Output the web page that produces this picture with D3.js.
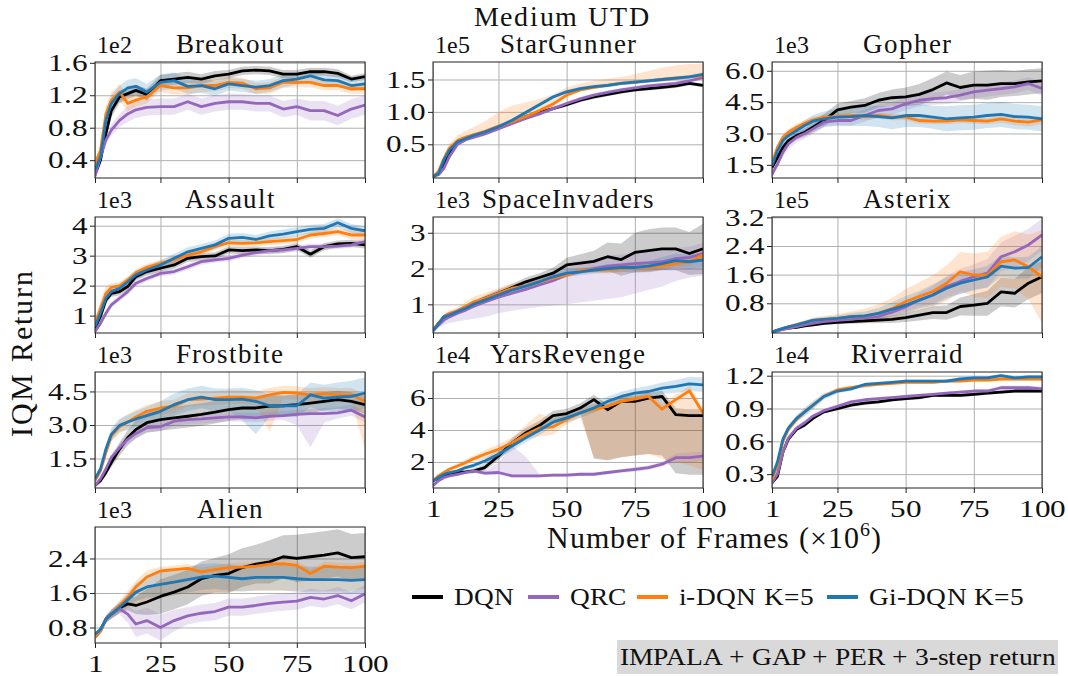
<!DOCTYPE html>
<html>
<head>
<meta charset="utf-8">
<script src="https://cdn.jsdelivr.net/npm/d3@7"></script>
<style>
  @font-face {
    font-family: "FigSerif";
    src: local("Liberation Serif"), local("LiberationSerif"), local("LiberationSerif-Regular"),
         local("Times New Roman"), local("DejaVu Serif"), local("DejaVuSerif");
  }
  body { margin: 0; background: #fff; }
  svg { display: block; }
  svg text { font-family: "FigSerif", "Liberation Serif", "Times New Roman", "DejaVu Serif", serif; }
</style>
</head>
<body>
<div id="chart"></div>
<script>
// frames (x 10^6) at which the curves are sampled
const frames = [1, 3, 5, 7, 10, 13, 16, 20, 25, 30, 35, 40, 45, 50, 55, 60, 65, 70, 75, 80, 85, 90, 95, 100];

const methods = ["DQN", "QRC", "i-DQN K=5", "Gi-DQN K=5"];
const colors = ["#000000", "#9467bd", "#ff7f0e", "#1f77b4"];

// ---- Breakout (x1e2)
const breakoutTicks = ["0.4", "0.8", "1.2", "1.6"];
const breakoutDQN = [0.22, 0.40, 0.73, 1.01, 1.18, 1.22, 1.26, 1.21, 1.38, 1.40, 1.42, 1.40, 1.44, 1.46, 1.50, 1.51, 1.50, 1.46, 1.46, 1.49, 1.49, 1.47, 1.40, 1.43];
const breakoutDQNBand = [0.03, 0.05, 0.08, 0.08, 0.08, 0.07, 0.07, 0.07, 0.07, 0.07, 0.07, 0.06, 0.06, 0.05, 0.05, 0.05, 0.05, 0.05, 0.05, 0.05, 0.05, 0.05, 0.04, 0.04];
const breakoutQRC = [0.20, 0.44, 0.65, 0.77, 0.89, 0.97, 1.02, 1.05, 1.06, 1.06, 1.12, 1.06, 1.10, 1.12, 1.12, 1.10, 1.10, 1.03, 1.06, 1.01, 1.01, 0.95, 1.03, 1.08];
const breakoutQRCBand = [0.03, 0.05, 0.06, 0.07, 0.08, 0.10, 0.10, 0.10, 0.10, 0.10, 0.10, 0.10, 0.10, 0.10, 0.10, 0.10, 0.10, 0.10, 0.10, 0.12, 0.12, 0.12, 0.12, 0.12];
const breakoutIDQN = [0.36, 0.52, 0.97, 1.14, 1.24, 1.10, 1.14, 1.18, 1.32, 1.29, 1.29, 1.32, 1.32, 1.36, 1.35, 1.28, 1.29, 1.36, 1.36, 1.36, 1.32, 1.32, 1.28, 1.28];
const breakoutIDQNBand = [0.04, 0.06, 0.10, 0.10, 0.10, 0.10, 0.08, 0.08, 0.08, 0.08, 0.08, 0.08, 0.07, 0.07, 0.07, 0.07, 0.07, 0.07, 0.06, 0.06, 0.06, 0.06, 0.06, 0.06];
const breakoutGiDQN = [0.28, 0.44, 0.89, 1.10, 1.22, 1.29, 1.31, 1.24, 1.36, 1.38, 1.31, 1.32, 1.28, 1.34, 1.32, 1.30, 1.32, 1.38, 1.40, 1.44, 1.39, 1.38, 1.32, 1.34];
const breakoutGiDQNBand = [0.04, 0.06, 0.10, 0.10, 0.10, 0.10, 0.10, 0.10, 0.10, 0.10, 0.09, 0.09, 0.09, 0.08, 0.08, 0.08, 0.08, 0.08, 0.07, 0.07, 0.07, 0.07, 0.07, 0.07];

// ---- StarGunner (x1e5)
const starTicks = ["0.5", "1.0", "1.5"];
const starDQN = [0.00, 0.06, 0.18, 0.36, 0.53, 0.58, 0.62, 0.67, 0.75, 0.83, 0.93, 0.99, 1.05, 1.11, 1.18, 1.23, 1.27, 1.31, 1.34, 1.36, 1.38, 1.40, 1.44, 1.41];
const starDQNBand = [0.01, 0.02, 0.02, 0.03, 0.03, 0.02, 0.02, 0.02, 0.02, 0.02, 0.02, 0.02, 0.02, 0.03, 0.03, 0.03, 0.03, 0.03, 0.03, 0.03, 0.03, 0.03, 0.03, 0.03];
const starQRC = [0.00, 0.03, 0.13, 0.31, 0.50, 0.57, 0.61, 0.66, 0.74, 0.82, 0.90, 0.97, 1.05, 1.13, 1.20, 1.26, 1.30, 1.34, 1.37, 1.40, 1.42, 1.44, 1.48, 1.53];
const starQRCBand = [0.01, 0.02, 0.03, 0.03, 0.03, 0.03, 0.03, 0.03, 0.03, 0.03, 0.03, 0.03, 0.03, 0.03, 0.03, 0.03, 0.03, 0.03, 0.03, 0.03, 0.03, 0.03, 0.03, 0.03];
const starIDQN = [0.00, 0.08, 0.28, 0.44, 0.56, 0.61, 0.65, 0.70, 0.78, 0.85, 0.93, 1.02, 1.12, 1.26, 1.34, 1.38, 1.41, 1.44, 1.46, 1.48, 1.50, 1.52, 1.54, 1.56];
const starIDQNBand = [0.01, 0.03, 0.06, 0.07, 0.08, 0.10, 0.12, 0.15, 0.22, 0.25, 0.22, 0.18, 0.15, 0.12, 0.10, 0.10, 0.10, 0.10, 0.12, 0.15, 0.18, 0.20, 0.20, 0.18];
const starIDQNLow = [0.00, 0.05, 0.24, 0.40, 0.52, 0.58, 0.62, 0.67, 0.74, 0.81, 0.89, 0.98, 1.08, 1.22, 1.31, 1.35, 1.38, 1.41, 1.43, 1.45, 1.47, 1.49, 1.51, 1.53];
const starGiDQN = [0.00, 0.05, 0.26, 0.41, 0.54, 0.59, 0.64, 0.69, 0.77, 0.87, 0.99, 1.11, 1.23, 1.31, 1.36, 1.39, 1.41, 1.44, 1.46, 1.48, 1.50, 1.52, 1.54, 1.58];
const starGiDQNBand = [0.01, 0.02, 0.03, 0.03, 0.03, 0.03, 0.03, 0.03, 0.03, 0.03, 0.03, 0.03, 0.03, 0.03, 0.03, 0.03, 0.03, 0.03, 0.03, 0.03, 0.03, 0.03, 0.03, 0.03];

// ---- Gopher (x1e3)
const gopherTicks = ["1.5", "3.0", "4.5", "6.0"];
const gopherDQN = [1.37, 1.85, 2.33, 2.66, 2.90, 3.06, 3.30, 3.62, 4.13, 4.26, 4.34, 4.59, 4.71, 4.75, 4.87, 5.10, 5.42, 5.20, 5.31, 5.31, 5.39, 5.39, 5.47, 5.52];
const gopherDQNBand = [0.10, 0.15, 0.20, 0.20, 0.20, 0.20, 0.25, 0.30, 0.30, 0.30, 0.35, 0.35, 0.40, 0.45, 0.50, 0.55, 0.55, 0.60, 0.65, 0.70, 0.65, 0.60, 0.60, 0.60];
const gopherQRC = [1.05, 1.53, 2.10, 2.50, 2.82, 3.00, 3.22, 3.54, 3.62, 3.62, 3.86, 4.10, 4.18, 4.42, 4.59, 4.67, 4.71, 4.83, 4.99, 5.07, 5.15, 5.23, 5.39, 5.15];
const gopherQRCBand = [0.10, 0.15, 0.20, 0.25, 0.25, 0.25, 0.25, 0.25, 0.25, 0.25, 0.30, 0.30, 0.30, 0.30, 0.30, 0.30, 0.30, 0.30, 0.30, 0.30, 0.30, 0.30, 0.30, 0.35];
const gopherIDQN = [1.60, 2.33, 2.82, 3.06, 3.30, 3.49, 3.65, 3.78, 3.81, 3.86, 3.81, 3.86, 3.78, 3.78, 3.62, 3.59, 3.59, 3.65, 3.62, 3.59, 3.70, 3.59, 3.54, 3.65];
const gopherIDQNBand = [0.10, 0.15, 0.15, 0.15, 0.15, 0.15, 0.15, 0.15, 0.15, 0.15, 0.15, 0.15, 0.15, 0.15, 0.15, 0.15, 0.15, 0.15, 0.15, 0.15, 0.20, 0.20, 0.20, 0.20];
const gopherGiDQN = [1.45, 2.17, 2.66, 2.90, 3.14, 3.38, 3.59, 3.70, 3.78, 3.81, 3.86, 3.81, 3.75, 3.86, 3.86, 3.78, 3.70, 3.75, 3.78, 3.86, 3.91, 3.81, 3.78, 3.70];
const gopherGiDQNBand = [0.10, 0.20, 0.20, 0.20, 0.20, 0.25, 0.30, 0.35, 0.40, 0.45, 0.50, 0.50, 0.55, 0.55, 0.55, 0.55, 0.60, 0.60, 0.60, 0.60, 0.60, 0.60, 0.60, 0.60];

// ---- Assault (x1e3)
const assaultTicks = ["1", "2", "3", "4"];
const assaultDQN = [0.58, 0.97, 1.52, 1.74, 1.80, 1.97, 2.30, 2.47, 2.58, 2.69, 2.91, 2.97, 2.99, 3.19, 3.17, 3.19, 3.17, 3.21, 3.30, 3.05, 3.30, 3.39, 3.41, 3.36];
const assaultDQNBand = [0.08, 0.10, 0.12, 0.12, 0.12, 0.12, 0.12, 0.12, 0.12, 0.12, 0.12, 0.12, 0.12, 0.12, 0.12, 0.12, 0.12, 0.12, 0.12, 0.12, 0.12, 0.12, 0.12, 0.12];
const assaultQRC = [0.47, 0.74, 1.08, 1.36, 1.58, 1.80, 2.08, 2.24, 2.41, 2.47, 2.63, 2.80, 2.86, 2.91, 3.02, 3.10, 3.17, 3.19, 3.24, 3.30, 3.30, 3.32, 3.36, 3.47];
const assaultQRCBand = [0.06, 0.08, 0.10, 0.10, 0.10, 0.10, 0.10, 0.10, 0.10, 0.10, 0.10, 0.10, 0.10, 0.10, 0.10, 0.10, 0.10, 0.10, 0.10, 0.10, 0.10, 0.10, 0.10, 0.10];
const assaultIDQN = [0.74, 1.24, 1.74, 1.94, 1.99, 2.19, 2.43, 2.61, 2.74, 2.86, 3.02, 3.13, 3.30, 3.43, 3.41, 3.43, 3.47, 3.50, 3.54, 3.69, 3.74, 3.80, 3.69, 3.69];
const assaultIDQNBand = [0.10, 0.25, 0.25, 0.15, 0.12, 0.12, 0.12, 0.12, 0.12, 0.12, 0.12, 0.12, 0.12, 0.12, 0.12, 0.12, 0.12, 0.12, 0.12, 0.12, 0.12, 0.12, 0.15, 0.20];
const assaultGiDQN = [0.63, 1.08, 1.58, 1.80, 1.91, 2.13, 2.36, 2.52, 2.69, 2.91, 3.13, 3.24, 3.36, 3.58, 3.61, 3.54, 3.66, 3.72, 3.80, 3.88, 3.91, 4.10, 3.91, 3.83];
const assaultGiDQNBand = [0.10, 0.15, 0.15, 0.15, 0.15, 0.15, 0.15, 0.15, 0.15, 0.15, 0.15, 0.15, 0.15, 0.15, 0.15, 0.15, 0.15, 0.15, 0.15, 0.15, 0.15, 0.15, 0.15, 0.15];

// ---- SpaceInvaders (x1e3)
const spaceTicks = ["1", "2", "3"];
const spaceDQN = [0.28, 0.47, 0.64, 0.72, 0.80, 0.92, 1.03, 1.17, 1.31, 1.47, 1.63, 1.75, 1.87, 2.10, 2.15, 2.20, 2.33, 2.25, 2.45, 2.50, 2.55, 2.55, 2.42, 2.55];
const spaceDQNBand = [0.03, 0.05, 0.05, 0.05, 0.06, 0.06, 0.07, 0.08, 0.10, 0.10, 0.12, 0.12, 0.15, 0.20, 0.25, 0.30, 0.40, 0.45, 0.55, 0.60, 0.60, 0.60, 0.60, 0.70];
const spaceQRC = [0.25, 0.42, 0.56, 0.65, 0.75, 0.84, 0.95, 1.07, 1.20, 1.31, 1.42, 1.54, 1.66, 1.82, 1.91, 2.00, 2.07, 2.10, 2.14, 2.16, 2.19, 2.28, 2.31, 2.42];
const spaceQRCBand = [0.03, 0.05, 0.06, 0.08, 0.10, 0.10, 0.12, 0.15, 0.20, 0.20, 0.20, 0.20, 0.20, 0.20, 0.20, 0.25, 0.30, 0.30, 0.30, 0.30, 0.30, 0.30, 0.30, 0.30];
const spaceQRCLow = [0.22, 0.35, 0.42, 0.48, 0.52, 0.56, 0.60, 0.65, 0.75, 0.82, 0.88, 0.93, 0.97, 1.00, 1.05, 1.10, 1.15, 1.20, 1.30, 1.40, 1.50, 1.65, 1.75, 1.80];
const spaceIDQN = [0.28, 0.47, 0.66, 0.75, 0.82, 0.95, 1.07, 1.17, 1.31, 1.45, 1.51, 1.63, 1.73, 1.82, 1.94, 1.96, 1.96, 2.00, 2.03, 2.03, 2.07, 2.14, 2.19, 2.38];
const spaceIDQNBand = [0.03, 0.05, 0.06, 0.08, 0.10, 0.12, 0.15, 0.15, 0.15, 0.15, 0.12, 0.10, 0.08, 0.08, 0.08, 0.08, 0.10, 0.10, 0.10, 0.10, 0.10, 0.10, 0.12, 0.15];
const spaceGiDQN = [0.27, 0.45, 0.66, 0.70, 0.80, 0.89, 1.01, 1.12, 1.26, 1.40, 1.51, 1.63, 1.77, 1.87, 1.91, 1.96, 2.00, 2.03, 2.03, 2.07, 2.14, 2.22, 2.19, 2.24];
const spaceGiDQNBand = [0.03, 0.05, 0.06, 0.07, 0.08, 0.08, 0.08, 0.08, 0.08, 0.08, 0.08, 0.08, 0.10, 0.10, 0.10, 0.10, 0.12, 0.12, 0.15, 0.15, 0.18, 0.20, 0.20, 0.20];

// ---- Asterix (x1e5)
const asterixTicks = ["0.8", "1.6", "2.4", "3.2"];
const asterixDQN = [0.00, 0.04, 0.08, 0.11, 0.13, 0.17, 0.20, 0.24, 0.27, 0.29, 0.31, 0.33, 0.35, 0.40, 0.47, 0.54, 0.54, 0.71, 0.75, 0.80, 1.12, 1.08, 1.36, 1.54];
const asterixDQNBand = [0.01, 0.02, 0.03, 0.03, 0.04, 0.04, 0.05, 0.05, 0.05, 0.06, 0.07, 0.08, 0.10, 0.12, 0.15, 0.18, 0.20, 0.25, 0.30, 0.35, 0.40, 0.40, 0.45, 0.45];
const asterixQRC = [0.00, 0.03, 0.07, 0.10, 0.15, 0.20, 0.24, 0.29, 0.32, 0.35, 0.39, 0.43, 0.55, 0.70, 0.89, 1.03, 1.27, 1.41, 1.54, 1.64, 2.10, 2.24, 2.43, 2.71];
const asterixQRCBand = [0.01, 0.02, 0.03, 0.04, 0.05, 0.05, 0.06, 0.06, 0.07, 0.08, 0.08, 0.10, 0.12, 0.15, 0.20, 0.25, 0.30, 0.35, 0.35, 0.40, 0.40, 0.45, 0.45, 0.45];
const asterixIDQN = [0.00, 0.05, 0.10, 0.14, 0.20, 0.26, 0.32, 0.35, 0.38, 0.43, 0.45, 0.52, 0.65, 0.85, 0.99, 1.13, 1.36, 1.68, 1.59, 1.59, 1.96, 2.01, 1.82, 1.54];
const asterixIDQNBand = [0.01, 0.02, 0.04, 0.05, 0.06, 0.06, 0.08, 0.10, 0.12, 0.15, 0.20, 0.25, 0.30, 0.35, 0.40, 0.45, 0.50, 0.55, 0.60, 0.65, 0.70, 0.80, 0.90, 1.30];
const asterixGiDQN = [0.00, 0.05, 0.10, 0.14, 0.20, 0.26, 0.32, 0.35, 0.38, 0.43, 0.45, 0.52, 0.63, 0.75, 0.89, 1.03, 1.22, 1.36, 1.45, 1.54, 1.84, 1.78, 1.80, 2.10];
const asterixGiDQNBand = [0.01, 0.02, 0.04, 0.04, 0.05, 0.05, 0.06, 0.07, 0.08, 0.10, 0.12, 0.15, 0.20, 0.25, 0.25, 0.30, 0.30, 0.30, 0.30, 0.30, 0.30, 0.30, 0.30, 0.30];

// ---- Frostbite (x1e3)
const frostTicks = ["1.5", "3.0", "4.5"];
const frostDQN = [0.29, 0.51, 0.88, 1.32, 1.92, 2.43, 2.80, 3.10, 3.24, 3.32, 3.39, 3.47, 3.57, 3.69, 3.76, 3.76, 3.84, 3.86, 3.91, 3.98, 4.06, 4.13, 4.06, 3.91];
const frostDQNBand = [0.05, 0.10, 0.15, 0.20, 0.30, 0.35, 0.40, 0.45, 0.50, 0.50, 0.50, 0.50, 0.50, 0.50, 0.50, 0.50, 0.50, 0.45, 0.45, 0.45, 0.40, 0.40, 0.40, 0.40];
const frostQRC = [0.29, 0.59, 1.03, 1.55, 1.99, 2.36, 2.62, 2.88, 2.92, 3.17, 3.24, 3.27, 3.32, 3.36, 3.36, 3.32, 3.39, 3.42, 3.47, 3.51, 3.51, 3.54, 3.66, 3.36];
const frostQRCBand = [0.05, 0.08, 0.10, 0.15, 0.20, 0.20, 0.20, 0.20, 0.20, 0.20, 0.20, 0.20, 0.20, 0.20, 0.20, 0.20, 0.20, 0.20, 0.20, 0.20, 0.25, 0.25, 0.25, 0.25];
const frostQRCLow = [0.24, 0.51, 0.93, 1.40, 1.79, 2.16, 2.42, 2.68, 2.72, 2.97, 3.04, 3.07, 3.12, 3.16, 3.16, 3.12, 3.19, 3.22, 3.00, 2.00, 3.10, 3.29, 3.41, 3.11];
const frostIDQN = [0.51, 0.95, 1.77, 2.51, 2.92, 3.13, 3.36, 3.61, 3.76, 3.84, 4.13, 4.16, 4.20, 4.25, 4.25, 4.20, 4.35, 4.46, 4.43, 4.35, 4.40, 4.35, 4.35, 4.06];
const frostIDQNBand = [0.10, 0.15, 0.20, 0.25, 0.30, 0.30, 0.30, 0.30, 0.30, 0.30, 0.30, 0.30, 0.30, 0.30, 0.30, 0.30, 0.30, 0.30, 0.30, 0.30, 0.30, 0.30, 0.30, 0.30];
const frostIDQNLow = [0.41, 0.80, 1.57, 2.26, 2.62, 2.83, 3.06, 3.31, 3.46, 3.54, 3.83, 3.86, 3.90, 3.95, 3.95, 3.90, 2.70, 4.16, 4.13, 4.05, 4.10, 4.05, 4.05, 1.90];
const frostGiDQN = [0.59, 1.03, 1.92, 2.58, 2.98, 3.13, 3.27, 3.42, 3.61, 3.91, 4.13, 4.25, 4.13, 4.13, 4.16, 4.06, 3.86, 3.86, 3.86, 4.35, 4.20, 4.25, 4.28, 4.43];
const frostGiDQNBand = [0.10, 0.15, 0.20, 0.30, 0.30, 0.35, 0.35, 0.40, 0.45, 0.50, 0.50, 0.50, 0.50, 0.50, 0.50, 0.50, 0.50, 0.50, 0.50, 0.55, 0.60, 0.65, 0.70, 0.70];
const frostGiDQNLow = [0.49, 0.88, 1.72, 2.28, 2.68, 2.78, 2.92, 3.02, 3.16, 3.41, 3.63, 3.75, 3.63, 3.63, 3.20, 2.60, 3.36, 3.36, 3.36, 3.80, 3.60, 3.60, 3.58, 3.73];

// ---- YarsRevenge (x1e4)
const yarsTicks = ["2", "4", "6"];
const yarsDQN = [0.82, 1.00, 1.13, 1.22, 1.34, 1.38, 1.44, 1.65, 2.37, 3.20, 3.82, 4.28, 4.90, 5.03, 5.38, 5.90, 5.27, 5.79, 5.79, 6.00, 6.10, 4.96, 4.90, 4.90];
const yarsDQNBand = [0.05, 0.08, 0.10, 0.10, 0.10, 0.12, 0.15, 0.20, 0.25, 0.30, 0.30, 0.30, 0.30, 0.30, 0.30, 0.30, 0.35, 0.35, 0.35, 0.35, 0.35, 0.40, 0.40, 0.40];
const yarsDQNLow = [0.77, 0.92, 1.03, 1.12, 1.24, 1.26, 1.29, 1.45, 2.12, 2.90, 3.52, 3.98, 4.60, 4.73, 5.08, 2.20, 2.10, 2.30, 2.40, 2.50, 2.40, 1.30, 1.20, 1.20];
const yarsQRC = [0.51, 0.82, 1.03, 1.13, 1.23, 1.34, 1.44, 1.30, 1.34, 1.13, 1.13, 1.13, 1.17, 1.17, 1.23, 1.23, 1.34, 1.44, 1.54, 1.65, 1.86, 2.27, 2.27, 2.37];
const yarsQRCBand = [0.05, 0.08, 0.10, 0.10, 0.10, 0.10, 0.12, 0.15, 0.60, 1.90, 1.20, 0.10, 0.10, 0.10, 0.10, 0.10, 0.10, 0.12, 0.15, 0.15, 0.15, 0.25, 0.30, 0.30];
const yarsQRCLow = [0.46, 0.74, 0.93, 1.03, 1.13, 1.24, 1.32, 1.18, 1.20, 1.03, 1.03, 1.03, 1.07, 1.07, 1.13, 1.13, 1.24, 1.32, 1.39, 1.50, 1.71, 2.02, 1.97, 2.07];
const yarsIDQN = [0.82, 1.13, 1.34, 1.54, 1.75, 1.96, 2.21, 2.48, 2.79, 3.20, 3.72, 4.13, 4.20, 4.65, 5.07, 5.27, 5.48, 5.79, 5.94, 6.10, 5.30, 5.90, 6.45, 5.07];
const yarsIDQNBand = [0.05, 0.08, 0.10, 0.12, 0.15, 0.20, 0.20, 0.25, 0.30, 0.35, 0.60, 0.90, 0.50, 0.30, 0.30, 0.30, 0.30, 0.30, 0.30, 0.30, 0.30, 0.30, 0.30, 0.30];
const yarsIDQNLow = [0.77, 1.05, 1.24, 1.42, 1.60, 1.76, 2.01, 2.23, 2.49, 2.85, 3.40, 3.60, 3.70, 4.35, 4.77, 2.30, 2.10, 2.30, 2.40, 2.50, 2.20, 2.00, 1.80, 1.50];
const yarsGiDQN = [0.82, 1.03, 1.23, 1.34, 1.44, 1.65, 1.79, 2.06, 2.48, 3.00, 3.51, 3.99, 4.49, 4.76, 5.07, 5.38, 5.79, 6.10, 6.31, 6.41, 6.62, 6.73, 6.89, 6.83];
const yarsGiDQNBand = [0.05, 0.08, 0.10, 0.10, 0.10, 0.12, 0.15, 0.20, 0.25, 0.30, 0.30, 0.30, 0.30, 0.30, 0.30, 0.30, 0.30, 0.30, 0.30, 0.35, 0.35, 0.40, 0.45, 0.45];

// ---- Riverraid (x1e4)
const riverTicks = ["0.3", "0.6", "0.9", "1.2"];
const riverDQN = [0.22, 0.28, 0.50, 0.62, 0.71, 0.75, 0.81, 0.87, 0.90, 0.93, 0.95, 0.96, 0.98, 0.99, 1.00, 1.02, 1.02, 1.02, 1.03, 1.04, 1.05, 1.06, 1.06, 1.06];
const riverDQNBand = [0.01, 0.02, 0.02, 0.02, 0.02, 0.02, 0.02, 0.015, 0.015, 0.015, 0.015, 0.015, 0.015, 0.015, 0.015, 0.015, 0.015, 0.015, 0.015, 0.015, 0.015, 0.015, 0.015, 0.015];
const riverQRC = [0.22, 0.30, 0.50, 0.63, 0.72, 0.77, 0.83, 0.88, 0.92, 0.96, 0.98, 0.99, 1.00, 1.01, 1.02, 1.03, 1.04, 1.05, 1.06, 1.06, 1.09, 1.09, 1.09, 1.08];
const riverQRCBand = [0.01, 0.02, 0.02, 0.02, 0.02, 0.02, 0.02, 0.015, 0.015, 0.015, 0.015, 0.015, 0.015, 0.015, 0.015, 0.015, 0.015, 0.015, 0.015, 0.015, 0.02, 0.02, 0.02, 0.02];
const riverIDQN = [0.25, 0.38, 0.60, 0.71, 0.80, 0.87, 0.93, 1.01, 1.07, 1.09, 1.11, 1.12, 1.13, 1.14, 1.14, 1.14, 1.15, 1.15, 1.16, 1.16, 1.17, 1.17, 1.17, 1.17];
const riverIDQNBand = [0.01, 0.02, 0.03, 0.03, 0.03, 0.03, 0.03, 0.02, 0.02, 0.02, 0.015, 0.015, 0.015, 0.015, 0.015, 0.015, 0.015, 0.015, 0.015, 0.015, 0.015, 0.015, 0.015, 0.015];
const riverGiDQN = [0.28, 0.41, 0.62, 0.72, 0.81, 0.87, 0.93, 1.01, 1.06, 1.08, 1.12, 1.13, 1.14, 1.15, 1.15, 1.15, 1.15, 1.17, 1.18, 1.18, 1.20, 1.18, 1.19, 1.19];
const riverGiDQNBand = [0.01, 0.03, 0.03, 0.03, 0.03, 0.04, 0.04, 0.03, 0.02, 0.02, 0.015, 0.015, 0.015, 0.015, 0.015, 0.015, 0.015, 0.015, 0.015, 0.015, 0.015, 0.015, 0.015, 0.015];

// ---- Alien (x1e3)
const alienTicks = ["0.8", "1.6", "2.4"];
const alienDQN = [0.60, 0.72, 0.99, 1.11, 1.25, 1.35, 1.31, 1.39, 1.52, 1.62, 1.74, 1.93, 2.01, 2.05, 2.19, 2.27, 2.32, 2.44, 2.40, 2.44, 2.48, 2.53, 2.42, 2.44];
const alienDQNBand = [0.05, 0.06, 0.08, 0.10, 0.12, 0.15, 0.20, 0.30, 0.40, 0.40, 0.40, 0.40, 0.40, 0.45, 0.45, 0.45, 0.50, 0.50, 0.55, 0.55, 0.55, 0.55, 0.55, 0.55];
const alienQRC = [0.57, 0.72, 0.99, 1.11, 1.23, 1.11, 0.88, 0.96, 0.80, 0.96, 1.07, 1.13, 1.17, 1.27, 1.27, 1.31, 1.36, 1.39, 1.41, 1.50, 1.46, 1.54, 1.42, 1.58];
const alienQRCBand = [0.05, 0.06, 0.08, 0.10, 0.12, 0.20, 0.30, 0.30, 0.30, 0.25, 0.20, 0.20, 0.20, 0.20, 0.20, 0.20, 0.20, 0.20, 0.20, 0.20, 0.20, 0.20, 0.20, 0.20];
const alienIDQN = [0.57, 0.72, 0.99, 1.11, 1.31, 1.50, 1.74, 1.97, 2.11, 2.14, 2.17, 2.09, 2.14, 2.19, 2.20, 2.22, 2.27, 2.28, 2.24, 2.05, 2.22, 2.20, 2.19, 2.22];
const alienIDQNBand = [0.05, 0.06, 0.08, 0.10, 0.12, 0.15, 0.15, 0.15, 0.10, 0.10, 0.10, 0.10, 0.10, 0.10, 0.10, 0.10, 0.10, 0.10, 0.10, 0.10, 0.10, 0.10, 0.10, 0.10];
const alienIDQNLow = [0.52, 0.66, 0.90, 1.00, 1.15, 1.25, 1.35, 1.45, 1.50, 1.55, 1.60, 1.60, 1.60, 1.62, 1.65, 1.65, 1.65, 1.65, 1.65, 1.65, 1.65, 1.65, 1.65, 1.70];
const alienGiDQN = [0.64, 0.76, 0.99, 1.11, 1.27, 1.44, 1.62, 1.74, 1.80, 1.85, 1.91, 1.97, 1.99, 1.96, 1.93, 1.96, 1.96, 1.96, 1.93, 1.91, 1.91, 1.91, 1.89, 1.91];
const alienGiDQNBand = [0.05, 0.06, 0.08, 0.10, 0.12, 0.15, 0.20, 0.25, 0.30, 0.30, 0.30, 0.30, 0.30, 0.30, 0.30, 0.30, 0.30, 0.30, 0.30, 0.30, 0.30, 0.30, 0.30, 0.30];

const xTicks = ["1", "25", "50", "75", "100"];

// panel table: layout slot, y range, then the series in method order
const panels = [
  { title: "Breakout", exp: "1e2", col: 0, row: 0, yDomain: [0.18, 1.61], ticks: breakoutTicks,
    mean: [breakoutDQN, breakoutQRC, breakoutIDQN, breakoutGiDQN],
    band: [breakoutDQNBand, breakoutQRCBand, breakoutIDQNBand, breakoutGiDQNBand], low: [] },
  { title: "StarGunner", exp: "1e5", col: 1, row: 0, yDomain: [-0.02, 1.77], ticks: starTicks,
    mean: [starDQN, starQRC, starIDQN, starGiDQN],
    band: [starDQNBand, starQRCBand, starIDQNBand, starGiDQNBand], low: [null, null, starIDQNLow] },
  { title: "Gopher", exp: "1e3", col: 2, row: 0, yDomain: [0.87, 6.42], ticks: gopherTicks,
    mean: [gopherDQN, gopherQRC, gopherIDQN, gopherGiDQN],
    band: [gopherDQNBand, gopherQRCBand, gopherIDQNBand, gopherGiDQNBand], low: [] },
  { title: "Assault", exp: "1e3", col: 0, row: 1, yDomain: [0.42, 4.29], ticks: assaultTicks,
    mean: [assaultDQN, assaultQRC, assaultIDQN, assaultGiDQN],
    band: [assaultDQNBand, assaultQRCBand, assaultIDQNBand, assaultGiDQNBand], low: [] },
  { title: "SpaceInvaders", exp: "1e3", col: 1, row: 1, yDomain: [0.2, 3.44], ticks: spaceTicks,
    mean: [spaceDQN, spaceQRC, spaceIDQN, spaceGiDQN],
    band: [spaceDQNBand, spaceQRCBand, spaceIDQNBand, spaceGiDQNBand], low: [null, spaceQRCLow] },
  { title: "Asterix", exp: "1e5", col: 2, row: 1, yDomain: [-0.03, 3.21], ticks: asterixTicks,
    mean: [asterixDQN, asterixQRC, asterixIDQN, asterixGiDQN],
    band: [asterixDQNBand, asterixQRCBand, asterixIDQNBand, asterixGiDQNBand], low: [] },
  { title: "Frostbite", exp: "1e3", col: 0, row: 2, yDomain: [0.18, 5.37], ticks: frostTicks,
    mean: [frostDQN, frostQRC, frostIDQN, frostGiDQN],
    band: [frostDQNBand, frostQRCBand, frostIDQNBand, frostGiDQNBand],
    low: [null, frostQRCLow, frostIDQNLow, frostGiDQNLow] },
  { title: "YarsRevenge", exp: "1e4", col: 1, row: 2, yDomain: [0.37, 7.63], ticks: yarsTicks, xLabels: true,
    mean: [yarsDQN, yarsQRC, yarsIDQN, yarsGiDQN],
    band: [yarsDQNBand, yarsQRCBand, yarsIDQNBand, yarsGiDQNBand],
    low: [yarsDQNLow, yarsQRCLow, yarsIDQNLow] },
  { title: "Riverraid", exp: "1e4", col: 2, row: 2, yDomain: [0.173, 1.234], ticks: riverTicks, xLabels: true,
    mean: [riverDQN, riverQRC, riverIDQN, riverGiDQN],
    band: [riverDQNBand, riverQRCBand, riverIDQNBand, riverGiDQNBand], low: [] },
  { title: "Alien", exp: "1e3", col: 0, row: 3, yDomain: [0.44, 3.13], ticks: alienTicks, xLabels: true,
    mean: [alienDQN, alienQRC, alienIDQN, alienGiDQN],
    band: [alienDQNBand, alienQRCBand, alienIDQNBand, alienGiDQNBand], low: [null, null, alienIDQNLow] }
];

const SERIF = "FigSerif, 'Liberation Serif', 'Times New Roman', 'DejaVu Serif', serif";
const colX = [95, 433, 772];
const rowY = [62, 217, 372, 527];
const W = 270, H = 116;

const svg = d3.select("#chart").append("svg")
  .attr("width", 1068)
  .attr("height", 676)
  .attr("font-family", SERIF);

const x = d3.scaleLinear().domain([1, 100]).range([0, W]);

panels.forEach((p, pi) => {
  const y = d3.scaleLinear().domain(p.yDomain).range([H, 0]);
  const tickVals = p.ticks.map(Number);

  const g = svg.append("g")
    .attr("transform", "translate(" + colX[p.col] + "," + rowY[p.row] + ")");

  g.append("clipPath").attr("id", "clip" + pi)
    .append("rect").attr("width", W).attr("height", H);

  // grid
  g.append("g")
    .call(d3.axisLeft(y).tickValues(tickVals).tickSize(-W).tickFormat(""))
    .call(s => s.select(".domain").remove())
    .selectAll("line").attr("stroke", "#b0b0b0").attr("stroke-width", 1);
  g.append("g")
    .attr("transform", "translate(0," + H + ")")
    .call(d3.axisBottom(x).tickValues(xTicks.map(Number)).tickSize(-H).tickFormat(""))
    .call(s => s.select(".domain").remove())
    .selectAll("line").attr("stroke", "#b0b0b0").attr("stroke-width", 1);

  const plot = g.append("g").attr("clip-path", "url(#clip" + pi + ")");

  // shaded bands
  p.mean.forEach((m, i) => {
    const lowArr = p.low[i] || null;
    const pts = frames.map((f, k) => ({
      f: f,
      lo: lowArr ? lowArr[k] : m[k] - p.band[i][k],
      hi: m[k] + p.band[i][k]
    }));
    plot.append("path")
      .datum(pts)
      .attr("fill", colors[i])
      .attr("fill-opacity", 0.2)
      .attr("d", d3.area().x(d => x(d.f)).y0(d => y(d.lo)).y1(d => y(d.hi)));
  });

  // mean lines
  p.mean.forEach((m, i) => {
    plot.append("path")
      .datum(frames.map((f, k) => [f, m[k]]))
      .attr("fill", "none")
      .attr("stroke", colors[i])
      .attr("stroke-width", 2.8)
      .attr("stroke-linejoin", "round")
      .attr("d", d3.line().x(d => x(d[0])).y(d => y(d[1])));
  });

  // axes
  const yAxis = g.append("g")
    .call(d3.axisLeft(y).tickValues(tickVals).tickFormat((d, i) => p.ticks[i]).tickSize(5).tickPadding(1));
  yAxis.attr("font-family", SERIF).attr("font-size", 24);
  yAxis.select(".domain").remove();
  yAxis.selectAll("line").attr("stroke", "#222");
  yAxis.selectAll("text")
    .attr("fill", "#111")
    .attr("transform", "scale(1.3,1)");

  const xAxis = g.append("g")
    .attr("transform", "translate(0," + H + ")")
    .call(d3.axisBottom(x).tickValues(xTicks.map(Number))
      .tickFormat((d, i) => p.xLabels ? xTicks[i] : "").tickSize(5).tickPadding(7));
  xAxis.attr("font-family", SERIF).attr("font-size", 24);
  xAxis.select(".domain").remove();
  xAxis.selectAll("line").attr("stroke", "#222");
  xAxis.selectAll("text")
    .attr("fill", "#111")
    .attr("transform", "scale(1.3,1)");

  // frame
  g.append("rect")
    .attr("width", W).attr("height", H)
    .attr("fill", "none").attr("stroke", "#222").attr("stroke-width", 1);

  // offset text and title
  g.append("text")
    .attr("x", 2).attr("y", -9)
    .attr("font-size", 24)
    .attr("fill", "#111")
    .text(p.exp);
  g.append("text")
    .attr("x", W / 2).attr("y", -9)
    .attr("text-anchor", "middle")
    .attr("font-size", 27)
    .style("letter-spacing", "1px")
    .attr("fill", "#111")
    .text(p.title);
});

// figure title and axis labels
svg.append("text")
  .attr("x", 562).attr("y", 25.5)
  .attr("text-anchor", "middle")
  .attr("font-size", 28)
  .style("letter-spacing", "1.8px")
  .attr("fill", "#111")
  .text("Medium UTD");

svg.append("text")
  .attr("transform", "translate(32,353) rotate(-90)")
  .attr("text-anchor", "middle")
  .attr("font-size", 30)
  .style("letter-spacing", "2px")
  .attr("fill", "#111")
  .text("IQM Return");

const xlab = svg.append("text")
  .attr("x", 714).attr("y", 548)
  .attr("text-anchor", "middle")
  .attr("font-size", 30)
  .style("letter-spacing", "1px")
  .attr("fill", "#111");
xlab.append("tspan").text("Number of Frames (\u00d710");
xlab.append("tspan").attr("dy", -12).attr("font-size", 20).text("6");
xlab.append("tspan").attr("dy", 12).text(")");

// legend
const legendLineX = [412, 528, 637, 827];
const legend = svg.append("g").attr("transform", "translate(0,597)");
methods.forEach((name, i) => {
  legend.append("line")
    .attr("x1", legendLineX[i]).attr("x2", legendLineX[i] + 31)
    .attr("y1", 0).attr("y2", 0)
    .attr("stroke", colors[i]).attr("stroke-width", 4);
  legend.append("text")
    .attr("transform", "translate(" + (legendLineX[i] + 42) + ",8) scale(1.14,1)")
    .attr("font-size", 24)
    .attr("fill", "#111")
    .text(name);
});

// setting box
svg.append("rect")
  .attr("x", 617).attr("y", 640)
  .attr("width", 441).attr("height", 34)
  .attr("fill", "#d9d9d9");
svg.append("text")
  .attr("transform", "translate(837.5,665) scale(1.1,1)")
  .attr("text-anchor", "middle")
  .attr("font-size", 25)
  .attr("fill", "#111")
  .text("IMPALA + GAP + PER + 3-step return");
</script>
</body>
</html>
